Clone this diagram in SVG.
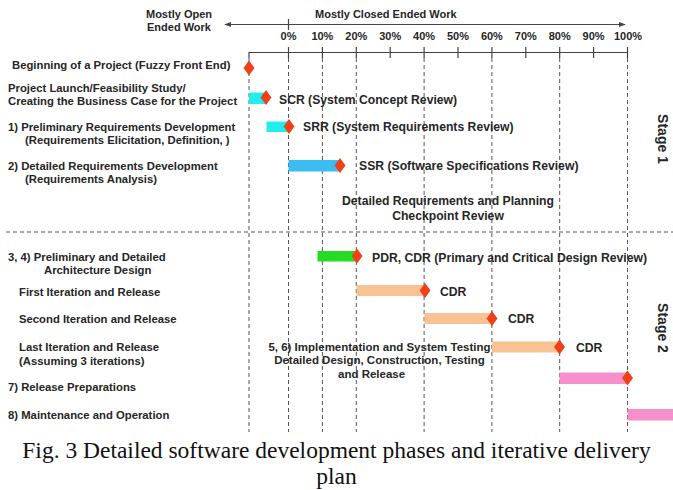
<svg xmlns="http://www.w3.org/2000/svg" width="673" height="490" viewBox="0 0 673 490">
<style>
text{font-family:"Liberation Sans",Arial,sans-serif;font-weight:bold;font-size:11px;fill:#262626}
.l{font-size:11.3px}
.r{font-size:12.2px}
.m{font-size:11.5px}
.c{text-anchor:middle}
.cap{font-family:"Liberation Serif","Times New Roman",serif;font-weight:normal;font-size:23.5px;fill:#111;text-anchor:middle}
.stage{font-size:14px}
.grid{stroke:#555;stroke-width:1;stroke-dasharray:4 3;fill:none}
.axis{stroke:#444;stroke-width:1.2;fill:none}
.dia{fill:#F0401A}
.cyan{fill:#22EEEE}
.blue{fill:#3CBDF0}
.green{fill:#22DD22}
.peach{fill:#F9C293}
.pink{fill:#F590CB}
</style>
<defs>
<marker id="ah" viewBox="0 0 8 8" refX="7" refY="4" markerWidth="6" markerHeight="6" orient="auto-start-reverse">
<path d="M0,1 L8,4 L0,7 z" fill="#444"/>
</marker>
<path id="d" d="M0,-7.5 L5.5,0 L0,7.5 L-5.5,0 z"/>
</defs>

<g id="connectors">
<line class="axis" x1="225" y1="24.5" x2="625" y2="24.5" marker-start="url(#ah)" marker-end="url(#ah)"/>
<line class="axis" x1="288.5" y1="19" x2="288.5" y2="30"/>
<path class="axis" d="M249,58 V52.5 H628"/>
<g class="axis">
<line x1="288.5" y1="47" x2="288.5" y2="58"/>
<line x1="322.4" y1="47" x2="322.4" y2="58"/>
<line x1="356.3" y1="47" x2="356.3" y2="58"/>
<line x1="390.2" y1="47" x2="390.2" y2="58"/>
<line x1="424.1" y1="47" x2="424.1" y2="58"/>
<line x1="458" y1="47" x2="458" y2="58"/>
<line x1="491.9" y1="47" x2="491.9" y2="58"/>
<line x1="525.8" y1="47" x2="525.8" y2="58"/>
<line x1="559.7" y1="47" x2="559.7" y2="58"/>
<line x1="593.6" y1="47" x2="593.6" y2="58"/>
<line x1="627.5" y1="47" x2="627.5" y2="58"/>
</g>
<g class="grid">
<line x1="249" y1="58" x2="249" y2="432"/>
<line x1="288.5" y1="58" x2="288.5" y2="432"/>
<line x1="322.4" y1="58" x2="322.4" y2="432"/>
<line x1="356.3" y1="58" x2="356.3" y2="432"/>
<line x1="424.1" y1="58" x2="424.1" y2="432"/>
<line x1="491.9" y1="58" x2="491.9" y2="432"/>
<line x1="559.7" y1="58" x2="559.7" y2="432"/>
<line x1="627.5" y1="58" x2="627.5" y2="432"/>
<line x1="6" y1="232" x2="673" y2="232"/>
</g>
</g>

<g id="header">
<text class="c" x="179" y="17.5">Mostly Open</text>
<text class="c" x="179" y="31">Ended Work</text>
<text x="315" y="17.5">Mostly Closed Ended Work</text>
<text class="c" x="288.5" y="40">0%</text>
<text class="c" x="322.4" y="40">10%</text>
<text class="c" x="356.3" y="40">20%</text>
<text class="c" x="390.2" y="40">30%</text>
<text class="c" x="424.1" y="40">40%</text>
<text class="c" x="458" y="40">50%</text>
<text class="c" x="491.9" y="40">60%</text>
<text class="c" x="525.8" y="40">70%</text>
<text class="c" x="559.7" y="40">80%</text>
<text class="c" x="593.6" y="40">90%</text>
<text class="c" x="628" y="40">100%</text>
</g>

<g id="stages">
<text class="stage c" transform="translate(658,139) rotate(90)">Stage 1</text>
<text class="stage c" transform="translate(658,328) rotate(90)">Stage 2</text>
</g>

<g id="row-beginning">
<text class="l" x="12" y="69">Beginning of a Project (Fuzzy Front End)</text>
<use href="#d" class="dia" x="249" y="68"/>
</g>

<g id="row-launch">
<text class="l" x="8" y="92">Project Launch/Feasibility Study/</text>
<text class="l" x="8" y="105">Creating the Business Case for the Project</text>
<rect class="cyan" x="249" y="92.5" width="17" height="11.5"/>
<use href="#d" class="dia" x="266" y="97.5"/>
<text class="r" x="279" y="104">SCR (System Concept Review)</text>
</g>

<g id="row-prelim-req">
<text class="l" x="8" y="131">1) Preliminary Requirements Development</text>
<text class="l" x="25" y="144">(Requirements Elicitation, Definition, )</text>
<rect class="cyan" x="266.5" y="121.5" width="22" height="10.5"/>
<use href="#d" class="dia" x="289" y="126.5"/>
<text class="r" x="303" y="131">SRR (System Requirements Review)</text>
</g>

<g id="row-detailed-req">
<text class="l" x="8" y="169.5">2) Detailed Requirements Development</text>
<text class="l" x="25" y="183">(Requirements Analysis)</text>
<rect class="blue" x="288.5" y="160" width="51.5" height="11.5"/>
<use href="#d" class="dia" x="340" y="165.5"/>
<text class="r" x="359" y="170">SSR (Software Specifications Review)</text>
</g>

<g id="checkpoint">
<text class="r c" x="448" y="205">Detailed Requirements and Planning</text>
<text class="r c" x="448" y="220">Checkpoint Review</text>
</g>

<g id="row-architecture">
<text class="l" x="8" y="260.5">3, 4) Preliminary and Detailed</text>
<text class="l" x="44" y="273.5">Architecture Design</text>
<rect class="green" x="317.5" y="251" width="39" height="10.5"/>
<use href="#d" class="dia" x="357" y="256"/>
<text class="r" x="372" y="261.5">PDR, CDR (Primary and Critical Design Review)</text>
</g>

<g id="row-first">
<text class="l" x="19" y="295.5">First Iteration and Release</text>
<rect class="peach" x="356.5" y="285" width="68" height="11"/>
<use href="#d" class="dia" x="425" y="290.5"/>
<text class="r" x="440" y="295.5">CDR</text>
</g>

<g id="row-second">
<text class="l" x="19" y="323">Second Iteration and Release</text>
<rect class="peach" x="424.5" y="313" width="67.5" height="11"/>
<use href="#d" class="dia" x="492" y="318.5"/>
<text class="r" x="508" y="323">CDR</text>
</g>

<g id="row-last">
<text class="l" x="19" y="351">Last Iteration and Release</text>
<text class="l" x="19" y="364.5">(Assuming 3 iterations)</text>
<rect class="peach" x="492" y="341.5" width="67.5" height="11"/>
<use href="#d" class="dia" x="559.5" y="347"/>
<text class="r" x="576" y="352">CDR</text>
</g>

<g id="implementation">
<text class="m c" x="379.5" y="350.5">5, 6) Implementation and System Testing</text>
<text class="m c" x="379.5" y="364">Detailed Design, Construction, Testing</text>
<text class="m" x="338" y="377.5">and Release</text>
</g>

<g id="row-release-prep">
<text class="l" x="8" y="391">7) Release Preparations</text>
<rect class="pink" x="559.5" y="372.5" width="68" height="11.5"/>
<use href="#d" class="dia" x="627.5" y="378"/>
</g>

<g id="row-maintenance">
<text class="l" x="8" y="419">8) Maintenance and Operation</text>
<rect class="pink" x="627.5" y="409" width="46" height="11.5"/>
</g>

<g id="caption">
<text class="cap" x="336.5" y="457.5">Fig. 3 Detailed software development phases and iterative delivery</text>
<text class="cap" x="336.5" y="483.5">plan</text>
</g>
</svg>
